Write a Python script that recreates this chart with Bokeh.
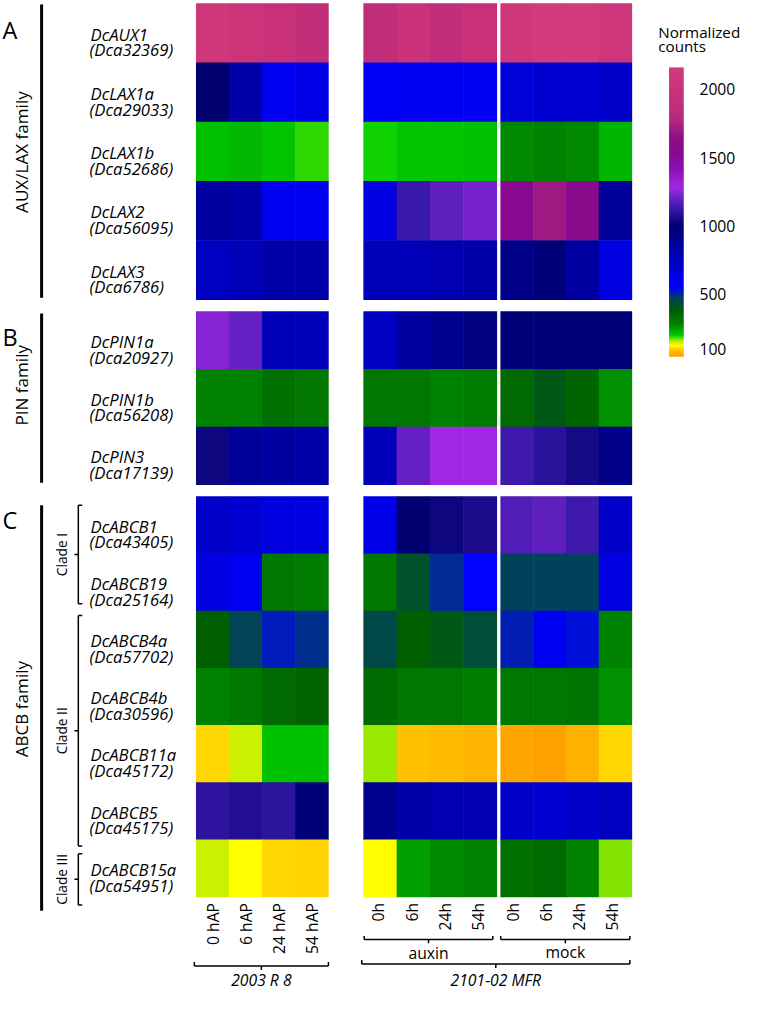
import numpy as np
from bokeh.plotting import figure
from bokeh.models import ColumnDataSource, LinearColorMapper, Range1d
from bokeh.transform import transform
from bokeh.core.properties import value
from bokeh.embed import file_html
from bokeh.resources import INLINE

# ---------------- data ----------------
genes = ["DcAUX1", "DcLAX1a", "DcLAX1b", "DcLAX2", "DcLAX3",
         "DcPIN1a", "DcPIN1b", "DcPIN3",
         "DcABCB1", "DcABCB19", "DcABCB4a", "DcABCB4b", "DcABCB11a", "DcABCB5", "DcABCB15a"]
gene_ids = ["Dca32369", "Dca29033", "Dca52686", "Dca56095", "Dca6786",
            "Dca20927", "Dca56208", "Dca17139",
            "Dca43405", "Dca25164", "Dca57702", "Dca30596", "Dca45172", "Dca45175", "Dca54951"]
family_letters = ["A", "B", "C"]
families = ["AUX/LAX family", "PIN family", "ABCB family"]
family_sizes = [5, 3, 7]
clades = ["Clade I", "Clade II", "Clade III"]
clade_sizes = [2, 4, 1]
labels_2003 = ["0 hAP", "6 hAP", "24 hAP", "54 hAP"]
labels_mfr = ["0h", "6h", "24h", "54h"]
treatments = ["auxin", "mock"]
cultivars = ["2003 R 8", "2101-02 MFR"]

counts_2003 = [
    [2100, 2030, 1950, 1900],
    [1000, 825, 589, 616],
    [207, 215, 203, 182],
    [850, 825, 589, 589],
    [747, 774, 825, 825],
    [1240, 1190, 774, 774],
    [275, 275, 323, 299],
    [1030, 875, 850, 825],
    [721, 695, 642, 642],
    [642, 589, 299, 287],
    [370, 460, 512, 490],
    [275, 299, 346, 358],
    [97, 145, 207, 207],
    [1100, 1070, 1095, 975],
    [145, 118, 97, 95],
]
counts_auxin = [
    [1880, 2000, 1900, 1950],
    [560, 575, 580, 580],
    [188, 203, 203, 207],
    [642, 1120, 1180, 1220],
    [774, 774, 800, 825],
    [747, 850, 900, 950],
    [299, 299, 275, 287],
    [774, 1190, 1280, 1280],
    [616, 1000, 1030, 1060],
    [299, 415, 495, 540],
    [445, 370, 395, 430],
    [346, 299, 299, 287],
    [160, 80, 77, 73],
    [900, 825, 800, 800],
    [118, 241, 266, 275],
]
counts_mock = [
    [2100, 2150, 2150, 2080],
    [668, 695, 695, 721],
    [266, 275, 266, 220],
    [1540, 1700, 1580, 875],
    [925, 975, 850, 642],
    [975, 975, 975, 970],
    [346, 395, 358, 258],
    [1130, 1090, 1050, 925],
    [1160, 1180, 1130, 721],
    [465, 465, 465, 642],
    [507, 589, 523, 275],
    [299, 299, 311, 258],
    [52, 40, 66, 97],
    [721, 695, 721, 747],
    [323, 346, 275, 165],
]
cbar_ticks = [2000, 1500, 1000, 500, 100]
cbar_low, cbar_high = 40, 2160

# ---------------- colour map (style) ----------------
stops = [(40, "#ffa000"), (70, "#ffb400"), (95, "#ffd400"), (118, "#ffff00"),
         (145, "#c8f000"), (165, "#80e400"), (190, "#00d000"), (275, "#008000"),
         (370, "#006000"), (470, "#004060"), (540, "#0000ff"), (800, "#0000b0"),
         (1000, "#000070"), (1120, "#3818a8"), (1280, "#a028e4"), (1420, "#8c10b0"),
         (1540, "#880890"), (1650, "#901088"), (1780, "#b42a7c"), (1950, "#c83078"),
         (2160, "#d23a7c")]
sv = np.array([s[0] for s in stops], float)
sc = np.array([[int(s[1][i:i + 2], 16) for i in (1, 3, 5)] for s in stops], float)
grid = np.linspace(cbar_low, cbar_high, 1024)
palette = ["#%02x%02x%02x" % tuple(int(round(np.interp(g, sv, sc[:, k]))) for k in range(3))
           for g in grid]
mapper = LinearColorMapper(palette=palette, low=cbar_low, high=cbar_high)

# ---------------- layout ----------------
W, H = 757, 1010
def Y(y):
    return H - y

FONT = value("Open Sans")
S = 0.98  # px scale
def fs(px):
    return "%.1fpx" % (px * S)

p = figure(width=741, height=994, x_range=Range1d(0, W), y_range=Range1d(0, H),
           output_backend="svg", toolbar_location=None, min_border=0,
           x_axis_type=None, y_axis_type=None)
p.grid.grid_line_color = None
p.outline_line_color = None
p.background_fill_color = "white"
p.border_fill_color = "white"

blocks = [(3, 304), (316, 492), (504, 911)]
row_c, row_h = [], []
for (t, b), n in zip(blocks, family_sizes):
    h = (b - t) / n
    for i in range(n):
        row_c.append(t + (i + 0.5) * h)
        row_h.append(h)

panels = [(200, 335, counts_2003), (371, 507, counts_auxin), (511, 645, counts_mock)]
col_centers = []
xs, ys, ws, hs, vs = [], [], [], [], []
for x0, x1, mat in panels:
    w = (x1 - x0) / 4
    cc = [x0 + (j + 0.5) * w for j in range(4)]
    col_centers.append(cc)
    for i, row in enumerate(mat):
        for j, v in enumerate(row):
            xs.append(cc[j]); ys.append(Y(row_c[i])); ws.append(w + 0.6); hs.append(row_h[i] + 0.6); vs.append(v)
src = ColumnDataSource(dict(x=xs, y=ys, w=ws, h=hs, v=vs))
p.rect(x="x", y="y", width="w", height="h", source=src,
       fill_color=transform("v", mapper), line_color=None)

# colour bar
grad = np.linspace(cbar_low, cbar_high, 400).reshape(-1, 1)
cb_top, cb_bot = 68, 362
p.image(image=[grad], x=683, y=Y(cb_bot), dw=15, dh=cb_bot - cb_top, color_mapper=mapper)
tick_y = [Y(cb_bot - (t - cbar_low) * (cb_bot - cb_top) / (cbar_high - cbar_low)) for t in cbar_ticks]
p.text(x=[714] * len(cbar_ticks), y=tick_y, text=[str(t) for t in cbar_ticks],
       text_font=FONT, text_font_size=fs(16), text_baseline="middle", text_align="left",
       text_color="black")
p.text(x=[672, 672], y=[Y(32), Y(46.5)], text=["Normalized", "counts"],
       text_font=FONT, text_font_size=fs(15.5), text_baseline="alphabetic", text_align="left",
       text_color="black")

# gene labels
p.text(x=[92] * len(genes), y=[Y(c + 1) for c in row_c], text=genes,
       text_font=FONT, text_font_size=fs(17), text_font_style="italic",
       text_baseline="alphabetic", text_align="left", text_color="black")
p.text(x=[91] * len(genes), y=[Y(c + 17) for c in row_c], text=["(%s)" % g for g in gene_ids],
       text_font=FONT, text_font_size=fs(17), text_font_style="italic",
       text_baseline="alphabetic", text_align="left", text_color="black")

# family letters, lines and labels
p.text(x=[2, 2, 2], y=[Y(30), Y(342), Y(528)], text=family_letters,
       text_font=FONT, text_font_size=fs(24), text_baseline="alphabetic", text_align="left",
       text_color="black")
p.segment(x0=[42, 42, 42], y0=[Y(4), Y(318), Y(513)], x1=[42, 42, 42], y1=[Y(302), Y(490), Y(925)],
          line_color="black", line_width=3)
p.text(x=[21, 21, 21], y=[Y(154), Y(391), Y(720)], text=families, angle=np.pi / 2,
       text_font=FONT, text_font_size=fs(17.5), text_baseline="middle", text_align="center",
       text_color="black")

# clade brackets
cl_top = [513, 625, 867]
cl_bot = [613, 859, 919]
cl_mid = [(a + b) / 2 for a, b in zip(cl_top, cl_bot)]
bx = 79.5
sx0, sy0, sx1, sy1 = [], [], [], []
for t, b, m in zip(cl_top, cl_bot, cl_mid):
    sx0 += [bx, bx, bx, bx - 4]; sy0 += [Y(t), Y(t), Y(b), Y(m)]
    sx1 += [bx, bx + 4, bx + 4, bx]; sy1 += [Y(b), Y(t), Y(b), Y(m)]
p.segment(x0=sx0, y0=sy0, x1=sx1, y1=sy1, line_color="black", line_width=1.5)
p.text(x=[62] * 3, y=[Y(m) for m in cl_mid], text=clades, angle=np.pi / 2,
       text_font=FONT, text_font_size=fs(14), text_baseline="middle", text_align="center",
       text_color="black")

# column labels
col_lab_x = col_centers[0] + [c - 2 for c in col_centers[1]] + [c - 4 for c in col_centers[2]]
col_lab = labels_2003 + labels_mfr + labels_mfr
p.text(x=col_lab_x, y=[Y(917)] * len(col_lab), text=col_lab, angle=np.pi / 2,
       text_font=FONT, text_font_size=fs(16), text_baseline="middle", text_align="right",
       text_color="black")

# bottom brackets: (x0, x1, y, tick_up, mid_down)
brackets = [(371.5, 503, 954, 3.5, 4), (511, 643, 954, 3.5, 4),
            (198, 335, 981, 4, 4), (369, 643, 979, 4, 4)]
bx0, by0, bx1, by1 = [], [], [], []
for a, b, y, up, dn in brackets:
    m = (a + b) / 2
    bx0 += [a, a, b, m]; by0 += [Y(y), Y(y), Y(y), Y(y)]
    bx1 += [b, a, b, m]; by1 += [Y(y), Y(y - up), Y(y - up), Y(y + dn)]
p.segment(x0=bx0, y0=by0, x1=bx1, y1=by1, line_color="black", line_width=1.5)
p.text(x=[(371.5 + 503) / 2, (511 + 643) / 2], y=[Y(968), Y(967)], text=treatments,
       text_font=FONT, text_font_size=fs(16), text_baseline="middle", text_align="center",
       text_color="black")
p.text(x=[(198 + 335) / 2, (369 + 643) / 2], y=[Y(995), Y(995)], text=cultivars,
       text_font=FONT, text_font_size=fs(16), text_font_style="italic",
       text_baseline="middle", text_align="center", text_color="black")

open("out.html", "w").write(file_html(p, INLINE))
